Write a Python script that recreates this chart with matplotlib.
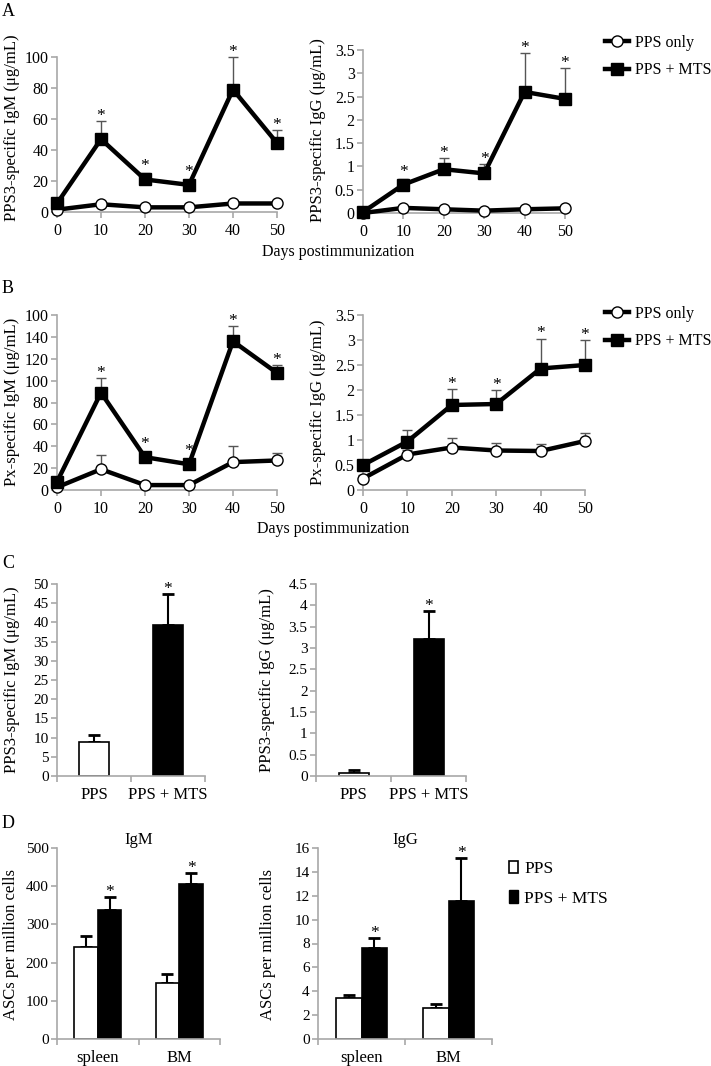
import matplotlib
matplotlib.use("Agg")
import matplotlib.pyplot as plt
from matplotlib.lines import Line2D
from matplotlib.patches import Patch

plt.rcParams['font.family'] = ['Liberation Serif', 'DejaVu Serif']

W, H = 711, 1066

days = [0, 10, 20, 30, 40, 50]

# A: PPS3-specific
a_igm_pps = [1.5, 5, 3, 3, 5.5, 5.5]
a_igm_pps_err = [0, 0, 0, 0, 0, 0]
a_igm_mts = [5.5, 47, 21, 17.5, 79, 44.5]
a_igm_mts_err = [0, 12, 4, 1.5, 21, 8.5]
a_igm_star = [0, 1, 1, 1, 1, 1]

a_igg_pps = [0.0, 0.11, 0.08, 0.05, 0.08, 0.1]
a_igg_pps_err = [0, 0, 0, 0, 0, 0]
a_igg_mts = [0.02, 0.61, 0.94, 0.85, 2.6, 2.45]
a_igg_mts_err = [0, 0.13, 0.25, 0.21, 0.83, 0.67]
a_igg_star = [0, 1, 1, 1, 1, 1]

# B: Px-specific
b_igm_pps = [2.5, 19, 4.5, 4.5, 25.5, 27]
b_igm_pps_err = [0, 13, 0, 0, 14.5, 7]
b_igm_mts = [7.5, 89, 30, 23.5, 136, 107]
b_igm_mts_err = [0, 13, 2, 1.5, 13.5, 7]
b_igm_star = [0, 1, 1, 1, 1, 1]
b_igm_ticklabels = ['0', '20', '40', '60', '80', '100', '120', '140', '100']

b_igg_pps = [0.23, 0.71, 0.85, 0.79, 0.78, 0.98]
b_igg_pps_err = [0.08, 0.1, 0.2, 0.16, 0.15, 0.17]
b_igg_mts = [0.5, 0.97, 1.7, 1.72, 2.43, 2.5]
b_igg_mts_err = [0, 0.23, 0.32, 0.29, 0.6, 0.5]
b_igg_star = [0, 0, 1, 1, 1, 1]

# C: bars
c_groups = ['PPS', 'PPS + MTS']
c_igm = [8.8, 39.4]
c_igm_err = [1.8, 7.9]
c_igg = [0.08, 3.22]
c_igg_err = [0.05, 0.65]
c_star = [0, 1]

# D: ASCs
d_sites = ['spleen', 'BM']
d_igm_pps = [241, 147]
d_igm_pps_err = [28, 22]
d_igm_mts = [338, 405]
d_igm_mts_err = [35, 29]
d_igg_pps = [3.45, 2.57]
d_igg_pps_err = [0.2, 0.36]
d_igg_mts = [7.65, 11.56]
d_igg_mts_err = [0.8, 3.6]

GRAY = '#a8a8a8'

fig = plt.figure(figsize=(W / 100, H / 100), dpi=100)


def add_ax(l, t, r, b):
    return fig.add_axes([l / W, 1 - b / H, (r - l) / W, (b - t) / H])


def ftext(x, y, s, **kw):
    fig.text(x / W, 1 - y / H, s, **kw)


def fmt(v):
    return '%g' % v


def style(ax, fs=11):
    for s in ('top', 'right'):
        ax.spines[s].set_visible(False)
    for s in ('left', 'bottom'):
        ax.spines[s].set_color(GRAY)
        ax.spines[s].set_linewidth(1.2)
    ax.tick_params(colors=GRAY, labelcolor='black', labelsize=fs, length=4, width=1.2, direction='out')
    ax.tick_params(axis='y', pad=2)


def stars(ax, xs, vals, tops, flags, clear=0, fs=12.5):
    # star sits above the error cap, or above the marker if the cap is hidden
    for x, v, t, f in zip(xs, vals, tops, flags):
        if not f:
            continue
        pv = ax.transData.transform((x, v))[1]
        pt = ax.transData.transform((x, t))[1]
        gap = max(pt - pv, clear)
        ax.annotate('*', (x, v), xytext=(0, (gap + 1) * 72 / 100), textcoords='offset points',
                    ha='center', va='baseline', fontsize=fs, annotation_clip=False)


def line_panel(ax, pps, pps_err, mts, mts_err, flags, ymax, step, ticklabels=None):
    ax.set_xlim(0, 50)
    ax.set_ylim(0, ymax)
    z = [0] * len(days)
    ax.errorbar(days, pps, yerr=[z, pps_err], fmt='none', ecolor='#555555',
                elinewidth=1, capsize=3.5, capthick=1, zorder=1, clip_on=False)
    ax.errorbar(days, mts, yerr=[z, mts_err], fmt='none', ecolor='#555555',
                elinewidth=1, capsize=3.5, capthick=1, zorder=1, clip_on=False)
    ax.plot(days, pps, color='black', lw=3.2, marker='o', ms=8, mfc='white',
            mec='black', mew=1, zorder=3, clip_on=False)
    ax.plot(days, mts, color='black', lw=3.2, marker='s', ms=8, mfc='black',
            mec='black', zorder=4, clip_on=False)
    tops = [m + e for m, e in zip(mts, mts_err)]
    stars(ax, days, mts, tops, flags, clear=8)
    ax.set_xticks(days)
    ticks = [i * step for i in range(int(round(ymax / step)) + 1)]
    ax.set_yticks(ticks)
    ax.set_yticklabels(ticklabels if ticklabels else [fmt(t) for t in ticks])
    style(ax, 11.5)
    ax.tick_params(axis='x', pad=4)


# ---- Panel A
ftext(8, 12, 'A', fontsize=13, ha='center', va='center')
ax = add_ax(57, 57, 277, 212)
line_panel(ax, a_igm_pps, a_igm_pps_err, a_igm_mts, a_igm_mts_err, a_igm_star, 100, 20)
ftext(12, 128, 'PPS3-specific IgM (μg/mL)', rotation=90, ha='center', va='center', fontsize=12)
ax = add_ax(363, 50, 565, 213)
line_panel(ax, a_igg_pps, a_igg_pps_err, a_igg_mts, a_igg_mts_err, a_igg_star, 3.5, 0.5)
ftext(318, 130, 'PPS3-specific IgG (μg/mL)', rotation=90, ha='center', va='center', fontsize=12)
ftext(338, 252, 'Days postimmunization', ha='center', va='center', fontsize=11.5)

h_pps = Line2D([], [], color='black', lw=3.2, marker='o', ms=8, mfc='white', mec='black')
h_mts = Line2D([], [], color='black', lw=3.2, marker='s', ms=8, mfc='black')


def line_legend(y):
    fig.legend([h_pps, h_mts], ['PPS only', 'PPS + MTS'], loc='upper left',
               bbox_to_anchor=(597 / W, 1 - y / H), frameon=False, fontsize=11.5,
               handlelength=1.5, handletextpad=0.35, labelspacing=0.7, borderpad=0)


line_legend(27)

# ---- Panel B
ftext(8, 288, 'B', fontsize=13, ha='center', va='center')
ax = add_ax(57, 315, 277, 490)
line_panel(ax, b_igm_pps, b_igm_pps_err, b_igm_mts, b_igm_mts_err, b_igm_star, 160, 20,
           b_igm_ticklabels)
ftext(12, 402, 'Px-specific IgM (μg/mL)', rotation=90, ha='center', va='center', fontsize=12)
ax = add_ax(363, 315, 585, 490)
line_panel(ax, b_igg_pps, b_igg_pps_err, b_igg_mts, b_igg_mts_err, b_igg_star, 3.5, 0.5)
ftext(318, 402, 'Px-specific IgG (μg/mL)', rotation=90, ha='center', va='center', fontsize=12)
ftext(333, 529, 'Days postimmunization', ha='center', va='center', fontsize=11.5)
line_legend(298)


# ---- Panel C
def bar_c(ax, vals, errs, ymax, step):
    x = [0, 1]
    ax.set_xlim(-0.5, 1.5)
    ax.set_ylim(0, ymax)
    ax.bar(x, vals, width=0.4, color=['white', 'black'], edgecolor='black', lw=1.2, zorder=2)
    ax.errorbar(x, vals, yerr=[[0, 0], errs], fmt='none', ecolor='black',
                elinewidth=1.5, capsize=4, capthick=2, zorder=1)
    stars(ax, x, vals, [v + e for v, e in zip(vals, errs)], c_star)
    ticks = [i * step for i in range(int(round(ymax / step)) + 1)]
    ax.set_yticks(ticks)
    ax.set_yticklabels([fmt(t) for t in ticks])
    ax.set_xticks([-0.5, 0.5, 1.5])
    ax.set_xticklabels([])
    ax.set_xticks(x, minor=True)
    ax.set_xticklabels(c_groups, minor=True)
    style(ax, 11)
    ax.tick_params(axis='x', which='minor', length=0, pad=8, labelsize=12)


ftext(8, 563, 'C', fontsize=13, ha='center', va='center')
ax = add_ax(57, 584, 205, 776)
bar_c(ax, c_igm, c_igm_err, 50, 5)
ftext(12, 680, 'PPS3-specific IgM (μg/mL)', rotation=90, ha='center', va='center', fontsize=12)
ax = add_ax(316, 584, 466, 776)
bar_c(ax, c_igg, c_igg_err, 4.5, 0.5)
ftext(267, 680, 'PPS3-specific IgG (μg/mL)', rotation=90, ha='center', va='center', fontsize=12)


# ---- Panel D
def bar_d(ax, pps, pps_err, mts, mts_err, ymax, step, title):
    x = [0, 1]
    w = 0.29
    xp = [i - w / 2 for i in x]
    xm = [i + w / 2 for i in x]
    ax.set_xlim(-0.5, 1.5)
    ax.set_ylim(0, ymax)
    ax.bar(xp, pps, width=w, color='white', edgecolor='black', lw=1.2, zorder=2)
    ax.bar(xm, mts, width=w, color='black', edgecolor='black', lw=1.2, zorder=2)
    ax.errorbar(xp, pps, yerr=[[0, 0], pps_err], fmt='none', ecolor='black',
                elinewidth=1.5, capsize=4, capthick=2, zorder=1)
    ax.errorbar(xm, mts, yerr=[[0, 0], mts_err], fmt='none', ecolor='black',
                elinewidth=1.5, capsize=4, capthick=2, zorder=1)
    stars(ax, xm, mts, [v + e for v, e in zip(mts, mts_err)], [1, 1])
    ticks = [i * step for i in range(int(round(ymax / step)) + 1)]
    ax.set_yticks(ticks)
    ax.set_yticklabels([fmt(t) for t in ticks])
    ax.set_xticks([-0.5, 0.5, 1.5])
    ax.set_xticklabels([])
    ax.set_xticks(x, minor=True)
    ax.set_xticklabels(d_sites, minor=True)
    style(ax, 11)
    ax.tick_params(axis='x', which='minor', length=0, pad=8, labelsize=12)
    ax.set_title(title, fontsize=12, pad=1)


ftext(8, 823, 'D', fontsize=13, ha='center', va='center')
ax = add_ax(57, 848, 220, 1039)
bar_d(ax, d_igm_pps, d_igm_pps_err, d_igm_mts, d_igm_mts_err, 500, 100, 'IgM')
ftext(11, 945, 'ASCs per million cells', rotation=90, ha='center', va='center', fontsize=12)
ax = add_ax(318, 848, 492, 1039)
bar_d(ax, d_igg_pps, d_igg_pps_err, d_igg_mts, d_igg_mts_err, 16, 2, 'IgG')
ftext(268, 945, 'ASCs per million cells', rotation=90, ha='center', va='center', fontsize=12)

fig.legend([Patch(facecolor='white', edgecolor='black', lw=1.2),
            Patch(facecolor='black', edgecolor='black')],
           ['PPS', 'PPS + MTS'], loc='upper left', bbox_to_anchor=(500 / W, 1 - 852 / H),
           frameon=False, fontsize=12.5, handlelength=0.55, handleheight=0.75,
           handletextpad=0.35, labelspacing=0.75, borderpad=0)

fig.savefig('out.png', dpi=100)
